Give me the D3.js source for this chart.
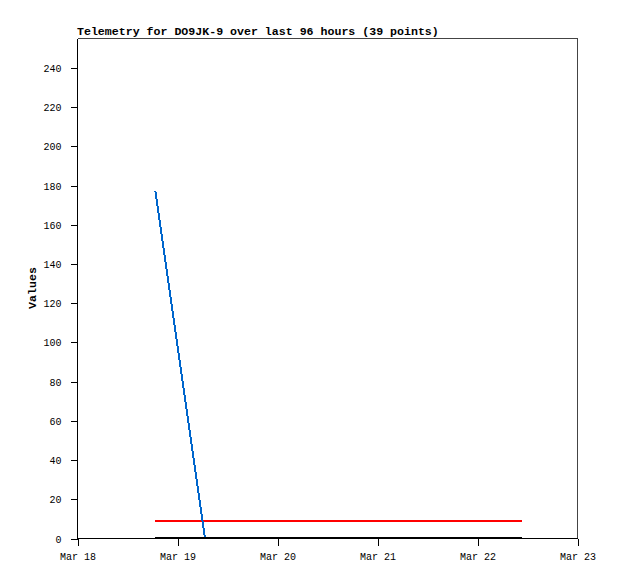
<!DOCTYPE html>
<html><head><meta charset="utf-8">
<script src="https://cdn.jsdelivr.net/npm/d3@7"></script>
<style>
body{margin:0;background:#fff;}
svg{display:block;}
</style></head>
<body>
<script>
const titleText = "Telemetry for DO9JK-9 over last 96 hours (39 points)";
const yLabel = "Values";
const xTickLabels = ["Mar 18","Mar 19","Mar 20","Mar 21","Mar 22","Mar 23"];
const yTicks = [0,20,40,60,80,100,120,140,160,180,200,220,240];
// hours since Mar 18 00:00
const times = [18.8, 30.7, 106.7];
const blueValues = [177, 0, 0];
const redValues = [8.6, 8.6, 8.6];
const blackValues = [0, 0, 0];

const W = 618, H = 579;
const L = 77, R = 577, T = 38, B = 538;
const svg = d3.select("body").append("svg").attr("width", W).attr("height", H);

const x = d3.scaleLinear().domain([0, 120]).range([L, R]);
const y = d3.scaleLinear().domain([0, 255]).range([B, T]);

const font = "'Liberation Mono', 'DejaVu Sans Mono', monospace";

// frame top/right
svg.append("path").attr("d", `M${L+0.5},${T+0.5}H${R+0.5}V${B+0.5}`)
  .attr("fill","none").attr("stroke","#444").attr("stroke-width",1).attr("shape-rendering","crispEdges");

// y axis
const yAxis = svg.append("g").attr("transform", `translate(${L+0.5},0.5)`)
  .call(d3.axisLeft(y).tickValues(yTicks).tickSize(7).tickPadding(9).tickSizeOuter(0));
yAxis.select(".domain").attr("d", `M0,${T}V${B}`);
// x axis
const xAxis = svg.append("g").attr("transform", `translate(0.5,${B+0.5})`)
  .call(d3.axisBottom(x).tickValues([0,24,48,72,96,120]).tickFormat((d,i)=>xTickLabels[i]).tickSize(7).tickPadding(9).tickSizeOuter(0));
xAxis.select(".domain").attr("d", `M${L},0H${R}`);
svg.selectAll(".tick line, .domain").attr("stroke","#000").attr("shape-rendering","crispEdges");
svg.selectAll(".tick text").attr("font-family", font).attr("font-size", "10px").attr("fill","#000");
yAxis.selectAll(".tick text").attr("x", -16).attr("dy","0.35em");
xAxis.selectAll(".tick text").attr("y", 14).attr("dy","0.71em");

const line = vals => d3.line().x((d,i)=>x(times[i])).y((d,i)=>y(vals[i]))(vals);

svg.append("path").attr("d", line(redValues)).attr("fill","none").attr("stroke","#ff0000").attr("stroke-width",2).attr("shape-rendering","crispEdges");
svg.append("path").attr("d", line(blueValues)).attr("fill","none").attr("stroke","#0066cc").attr("stroke-width",2).attr("shape-rendering","crispEdges");
svg.append("path").attr("d", line(blackValues)).attr("fill","none").attr("stroke","#000").attr("stroke-width",2).attr("shape-rendering","crispEdges");

svg.append("text").attr("x", L).attr("y", 35).text(titleText)
  .attr("font-family", font).attr("font-weight","bold").attr("font-size","11.6px").attr("fill","#000");

svg.append("text").attr("transform", `translate(36,${(T+B)/2}) rotate(-90)`).attr("text-anchor","middle").text(yLabel)
  .attr("font-family", font).attr("font-weight","bold").attr("font-size","11.6px").attr("fill","#000");
</script>
</body></html>
